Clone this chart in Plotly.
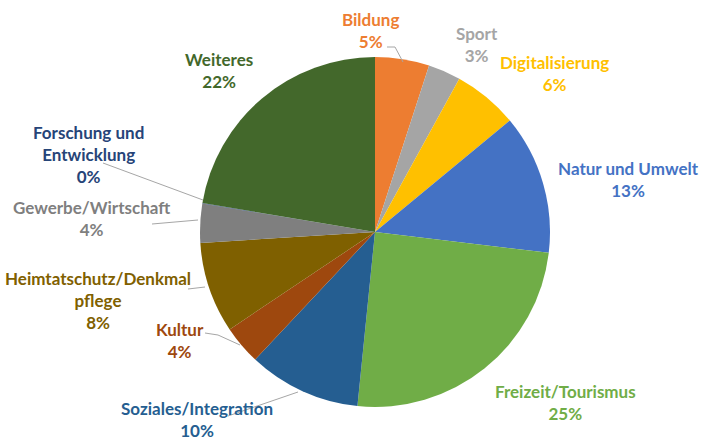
import plotly.graph_objects as go

# ---- data (clockwise from 12 o'clock) ----
categories = ["Bildung", "Sport", "Digitalisierung", "Natur und Umwelt",
              "Freizeit/Tourismus", "Soziales/Integration", "Kultur",
              "Heimtatschutz/Denkmalpflege", "Gewerbe/Wirtschaft",
              "Forschung und Entwicklung", "Weiteres"]
label_text = ["Bildung", "Sport", "Digitalisierung", "Natur und Umwelt",
              "Freizeit/Tourismus", "Soziales/Integration", "Kultur",
              "Heimtatschutz/Denkmal<br>pflege", "Gewerbe/Wirtschaft",
              "Forschung und<br>Entwicklung", "Weiteres"]
values = [5.0, 3.0, 6.0, 12.9, 24.7, 10.4, 3.6, 8.4, 3.6, 0.05, 22.35]

# ---- styles / layout ----
colors = ["#ED7D31", "#A5A5A5", "#FFC000", "#4472C4", "#70AD47", "#255E91",
          "#9E480E", "#7F6000", "#7F7F7F", "#264478", "#43682B"]
text_colors = ["#ED7D31", "#A5A5A5", "#FFC000", "#4472C4", "#70AD47", "#255E91",
               "#9E480E", "#806000", "#7F7F7F", "#264478", "#43682B"]
# label centres in pixels (x, y of first line)
label_pos = [(370, 19), (477, 33), (554, 62), (628, 168), (565, 391),
             (197, 408), (180, 329), (98, 278), (92, 207), (88, 132), (219, 59)]
leaders = [
    [(387, 47), (395, 47), (403, 62)],
    [(103, 163), (203, 200)],
    [(152, 224), (198, 220)],
    [(188, 289), (205, 287)],
    [(205, 333), (218, 335), (240, 345)],
    [(228, 416), (298, 392)],
]

W, H = 703, 443
px = lambda x: x / W
py = lambda y: 1 - y / H

cx, cy, r = 375, 232, 175

fig = go.Figure(go.Pie(
    labels=categories, values=values, sort=False, direction="clockwise",
    rotation=0, marker=dict(colors=colors, line=dict(width=0)),
    textinfo="none", hoverinfo="label+percent",
    domain=dict(x=[px(cx - r), px(cx + r)], y=[py(cy + r), py(cy - r)]),
    showlegend=False,
))

total = sum(values)
LINE = 21.7
annotations = []
for lab, v, col, (x, y) in zip(label_text, values, text_colors, label_pos):
    pct = round(v / total * 100)
    text = "<b>" + lab + "<br>" + f"{pct}%" + "</b>"
    annotations.append(dict(
        x=px(x), y=py(y - LINE / 2), xref="paper", yref="paper",
        text=text, showarrow=False, xanchor="center", yanchor="top",
        align="center", borderpad=0,
        font=dict(family="Lato", size=17, color=col),
    ))

shapes = []
for pts in leaders:
    path = "M " + " L ".join(f"{px(a)},{py(b)}" for a, b in pts)
    shapes.append(dict(type="path", path=path, xref="paper", yref="paper",
                       line=dict(color="#A6A6A6", width=1)))

fig.update_layout(
    width=W, height=H, margin=dict(l=0, r=0, t=0, b=0),
    paper_bgcolor="white", plot_bgcolor="white",
    annotations=annotations, shapes=shapes,
)

fig.write_html("out.html", config={"displayModeBar": False},
               post_script="document.body.style.margin='0';")
